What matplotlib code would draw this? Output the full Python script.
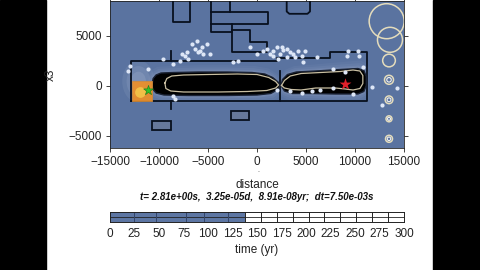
import matplotlib
matplotlib.use('Agg')
import matplotlib.pyplot as plt
from matplotlib.patches import Rectangle, Polygon, FancyBboxPatch, Ellipse
import numpy as np

plt.rcParams['font.family'] = ['Liberation Sans', 'DejaVu Sans']

# ---------------- data ----------------
# black contour lines (polylines)
box_x = [-12850, -12850, 2000, 2000, 7450, 7450, 11190, 11190, -12850]
box_y = [-1500, 2450, 2450, 2750, 2750, 3330, 3330, -1500, -1500]
stair1_x = [-4730, -4730, -2585]
stair1_y = [8600, 5330, 5330]
stair2_x = [-4730, 1160, 1160, -4730]
stair2_y = [7330, 7330, 6170, 6170]
stair3_x = [-2755, -2755]
stair3_y = [8600, 7330]
stair4_x = [-2585, -2585, 990, 990, -710, -710, -2585]
stair4_y = [6170, 3330, 3330, 4330, 4330, 5570, 5570]
rect_tl_x = [-8600, -8600, -6840, -6840]
rect_tl_y = [8600, 6330, 6330, 8600]
rect_tr_x = [3030, 3030, 3300, 5150, 5410, 5410]
rect_tr_y = [8600, 7400, 7170, 7170, 7400, 8600]
vline1_x = [-8810, -8810]
vline1_y = [3430, 2450]
vline2_x = [-8810, -8810]
vline2_y = [-1500, -2330]
vline3_x = [2347, 2347]
vline3_y = [1500, -1500]

# lower filled rectangles
low1_x = [-10680, -8780, -8780, -10680]
low1_y = [-3500, -3500, -4430, -4430]
low2_x = [-2690, -790, -790, -2690]
low2_y = [-2500, -2500, -3430, -3430]

# black blob (two lobes)
lobeL_x = [-10700, -10600, -10300, -9800, -8500, -6000, -3000, -500, 800, 1600, 2150, 2350,
           2150, 1400, 0, -3000, -7000, -9500, -10300, -10650]
lobeL_y = [100, 700, 1050, 1250, 1300, 1350, 1350, 1300, 1150, 800, 350, 0,
           -400, -800, -950, -1000, -1000, -950, -750, -350]
lobeR_x = [2450, 2600, 3100, 4000, 6000, 8500, 10300, 10900, 11150, 11150, 10900, 10300, 8000,
           5500, 3600, 2800]
lobeR_y = [0, 600, 1100, 1350, 1450, 1600, 1700, 1500, 900, 0, -600, -850, -850,
           -800, -800, -550]

# tan contour inside blob
tanL_x = [-9400, -9200, -8700, -7500, -5000, -2000, 0, 1200, 1900, 2200, 1900, 1000, -1000,
          -4000, -7500, -8800, -9300, -9400]
tanL_y = [250, 700, 950, 1050, 1100, 1150, 1100, 800, 400, 50, -250, -500, -600,
          -650, -650, -550, -300, 250]
tanR_x = [2500, 2800, 3400, 4500, 6500, 8500, 9800, 10500, 10800, 10800, 10500, 9800, 9000,
          8000, 6000, 4500, 3500, 2800, 2500]
tanR_y = [0, 500, 950, 1200, 1300, 1400, 1550, 1450, 1000, 200, -300, -450, -350,
          -250, -250, -450, -400, -250, 0]

# white scatter points
pts_x = [-6670, -6160, -5820, -5480, -6330, -7180, -7690, -5140, -7860, -7010, -5650, -5990, -4800,
         -8540, -9560, -7350,
         -720, -30, 650, 990, 1330, 1670, 2010, 2350, 2690, 3030, 3370, 3710, 4220, 4560, 4900,
         2180, 1670, 2520, 3030, 3880, 4730, 6090, -2420, -1910,
         9320, 10340, 10440, 9150,
         3370, 4560, 5580, 6430, 7790, 9830, 8980, 7790, 10850, 11700, 2010,
         -13200, -12960, -11090, -8540, -8370, 12720, 14250]
pts_y = [4170, 4500, 3500, 3170, 3670, 3330, 3170, 4170, 2500, 2670, 3830, 3330, 3170,
         2170, 2670, 3000,
         3900, 3170, 3500, 3670, 3170, 3500, 3830, 3170, 3570, 2830, 3330, 3170, 3500, 3000, 3500,
         2670, 3000, 3830, 3670, 2830, 2330, 2830, 2330, 2430,
         3500, 3500, 3000, 3000,
         -500, -700, -570, -430, -230, -830, 1330, 1670, 1830, -100, -430,
         1500, 1930, 1670, -1000, -1330, -1930, -230]

# circles on the right (size legend)
circ_x = [13230, 13570, 13470, 13470, 13470, 13470, 13470]
circ_y = [6430, 4570, 2500, 570, -1430, -3330, -5330]
circ_d = [35, 25, 12.7, 9, 7.7, 6, 7]   # diameters in px

# markers
src_x, src_y = [-11700], [-500]
green_x, green_y = [-11090], [-430]
red_x, red_y = [8980], [170]

# timeline (colorbar)
cb_ticks = [0, 25, 50, 75, 100, 125, 150, 175, 200, 225, 250, 275, 300]
cb_fill = 137.5
cb_seg = [137.8, 154, 170.2, 186.4, 202.6, 218.8, 235, 251.2, 267.4, 283.6]
cb_fill_lines = [24, 47, 78, 96, 120]

title = 't= 2.81e+00s,  3.25e-05d,  8.91e-08yr;  dt=7.50e-03s'

# ---------------- figure ----------------
W, H = 480, 270
fig = plt.figure(figsize=(W / 100, H / 100), dpi=100)
fig.patch.set_facecolor('white')
fig.patches.append(Rectangle((0, 0), 46 / W, 1, transform=fig.transFigure, color='black', zorder=0))
fig.patches.append(Rectangle((433 / W, 0), 47 / W, 1, transform=fig.transFigure, color='black', zorder=0))

bg = '#5a73a0'
ax = fig.add_axes([110 / W, (H - 148) / H, 294 / W, 147 / H])
ax.set_facecolor(bg)
ax.set_xlim(-15000, 15000)
ax.set_ylim(-6250, 8450)

# soft haze around blob
for lx, ly in [(lobeL_x, lobeL_y), (lobeR_x, lobeR_y)]:
    cx, cy = np.mean(lx), np.mean(ly)
    for sc, a in [(1.6, 0.04), (1.4, 0.05), (1.22, 0.07), (1.1, 0.08)]:
        gx = cx + (np.array(lx) - cx) * (1 + (sc - 1) * 0.12)
        gy = cy + (np.array(ly) - cy) * sc
        ax.add_patch(Polygon(np.c_[gx, gy], closed=True, facecolor='#e6ecf7', alpha=a, lw=0, zorder=1))
for r, a in [(1500, 0.08), (1100, 0.1), (700, 0.12)]:
    ax.add_patch(Ellipse((src_x[0] - 400, src_y[0] + 900), 2.2 * r, 2.8 * r,
                         facecolor='#dfe7f5', alpha=a, lw=0, zorder=1))

lc = '#08101e'
for px_, py_ in [(box_x, box_y), (stair1_x, stair1_y), (stair2_x, stair2_y), (stair3_x, stair3_y),
                 (stair4_x, stair4_y), (rect_tl_x, rect_tl_y), (rect_tr_x, rect_tr_y),
                 (vline1_x, vline1_y), (vline2_x, vline2_y), (vline3_x, vline3_y)]:
    ax.plot(px_, py_, color=lc, lw=1.3, zorder=3, solid_joinstyle='round')

for lx, ly in [(low1_x, low1_y), (low2_x, low2_y)]:
    ax.add_patch(Polygon(np.c_[lx, ly], closed=True, facecolor='#66789a', edgecolor=lc, lw=1.3, zorder=3))

for lx, ly in [(lobeL_x, lobeL_y), (lobeR_x, lobeR_y)]:
    ax.add_patch(Polygon(np.c_[lx, ly], closed=True, facecolor='black', edgecolor='#1a2234', lw=1.0,
                         zorder=4, joinstyle='round'))
for lx, ly in [(tanL_x, tanL_y), (tanR_x, tanR_y)]:
    ax.plot(lx, ly, color='#c9bfa2', lw=0.9, zorder=5)

ax.scatter(pts_x, pts_y, s=9, color='#dde6f6', lw=0, zorder=6)

sizes = [(d * 0.72) ** 2 for d in circ_d]
ax.scatter(circ_x, circ_y, s=sizes, facecolors='none', edgecolors='#e4dcbc', linewidths=1.1, zorder=6)
ax.scatter(circ_x[3:], circ_y[3:], s=[s * 0.25 for s in sizes[3:]], facecolors='none',
           edgecolors='#f2f2f2', linewidths=0.8, zorder=6)

# source patch (orange square with yellow core)
ax.scatter(src_x, src_y, s=190, marker='s', color='#e98f2c', edgecolors='#d08a3a', lw=0.6,
           zorder=7, alpha=0.95)
ax.scatter([src_x[0] - 250], [src_y[0] - 100], s=60, color='#f3c64a', lw=0, zorder=7, alpha=0.9)
ax.scatter(green_x, green_y, s=55, marker='*', color='#2fc02a', edgecolors='#1a7a18', lw=0.4, zorder=8)
ax.scatter(red_x, red_y, s=80, marker='*', color='#e0202a', lw=0, zorder=8)

ax.set_xticks([-15000, -10000, -5000, 0, 5000, 10000, 15000])
ax.set_yticks([-5000, 0, 5000])
ax.tick_params(direction='out', length=3, width=0.6, pad=3, labelsize=8.5, top=True, right=True,
               colors='#222222')
for s in ax.spines.values():
    s.set_linewidth(0.6)
    s.set_color('#222222')

fig.text(51 / W, 1 - 75 / H, 'x3', rotation=90, ha='center', va='center', fontsize=8.5, color='#222222')
fig.text(257 / W, 1 - 185 / H, 'distance', ha='center', va='center', fontsize=8.5, color='#222222')
fig.text(258 / W, 1 - 171 / H, '.', ha='center', va='center', fontsize=5, color='#444444')
fig.text(257 / W, 1 - 197 / H, title, ha='center', va='center', fontsize=7, fontweight='bold',
         fontstyle='italic', color='#111111')

# timeline bar
cax = fig.add_axes([110 / W, (H - 222) / H, 294 / W, 10 / H])
cax.set_xlim(0, 300)
cax.set_ylim(0, 1)
cax.barh([0.5], [cb_fill], height=1, left=0, color='#5d76a3', lw=0)
cax.axhline(0.5, color='#222222', lw=0.6)
for v in cb_seg:
    cax.axvline(v, color='#222222', lw=0.7)
for v in cb_fill_lines:
    cax.axvline(v, color='#33456a', lw=0.7)
cax.set_yticks([])
cax.set_xticks(cb_ticks)
cax.tick_params(length=0, pad=4, labelsize=8.5, colors='#222222')
for s in cax.spines.values():
    s.set_linewidth(0.7)
    s.set_color('#222222')
fig.text(257 / W, 1 - 250 / H, 'time (yr)', ha='center', va='center', fontsize=8.5, color='#222222')

fig.savefig('out.png', dpi=100)
